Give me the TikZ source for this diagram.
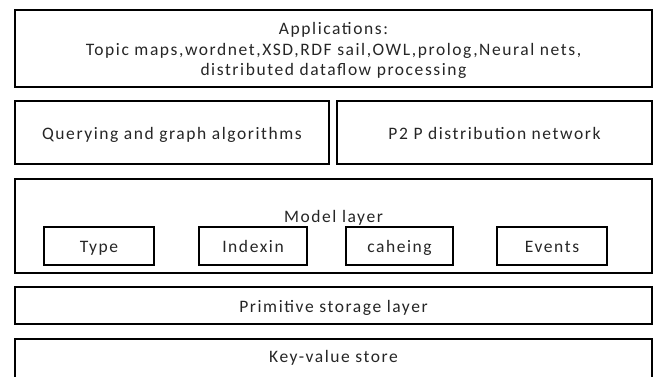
\documentclass[tikz,border=0pt]{standalone}
\usepackage{fontspec}
\setmainfont{Carlito}[LetterSpace=9]
\tikzset{
  layer/.style={draw=black, line width=2.6pt, inner sep=0pt, fill=white},
  lbl/.style={text=black!85, font=\fontsize{17.5}{20.5}\selectfont, align=center},
  oneline/.style={lbl, text height=13.5pt, text depth=0pt}
}
\begin{document}
\begin{tikzpicture}[x=1pt, y=-1pt]
  \clip (0,0) rectangle (660,376);
  \fill[white] (0,0) rectangle (660,376);

  % top layer: applications
  \node[layer, minimum width=637pt, minimum height=77pt] (app) at (333.5,48.5) {};
  \node[lbl] (applbl) at (333.5,50.5)
    {Applications:\\Topic maps,wordnet,XSD,RDF sail,OWL,prolog,Neural nets,\\distributed dataflow processing};

  % second layer
  \node[layer, oneline, minimum width=314pt, minimum height=63pt] (query) at (172,132.5)
    {Querying and graph algorithms};
  \node[layer, oneline, minimum width=315pt, minimum height=63pt] (p2p) at (494.5,132.5)
    {P2 P distribution network};

  % model layer with its components
  \node[layer, minimum width=637pt, minimum height=94pt] (model) at (333.5,226) {};
  \node[oneline] (modellbl) at (333.5,216) {Model layer};
  \node[layer, oneline, minimum width=110pt, minimum height=38pt] (type) at (99,246) {Type};
  \node[layer, oneline, minimum width=108pt, minimum height=38pt] (index) at (253,246) {Indexin};
  \node[layer, oneline, minimum width=107pt, minimum height=38pt] (cache) at (399.5,246) {caheing};
  \node[layer, oneline, minimum width=110pt, minimum height=38pt] (events) at (552,246) {Events};

  % storage layers
  \node[layer, oneline, minimum width=637pt, minimum height=37pt] (prim) at (333.5,305.5)
    {Primitive storage layer};
  \node[layer, minimum width=637pt, minimum height=60pt] (kv) at (333.5,369) {};
  \node[oneline] (kvlbl) at (333.5,356) {Key-value store};
\end{tikzpicture}
\end{document}
